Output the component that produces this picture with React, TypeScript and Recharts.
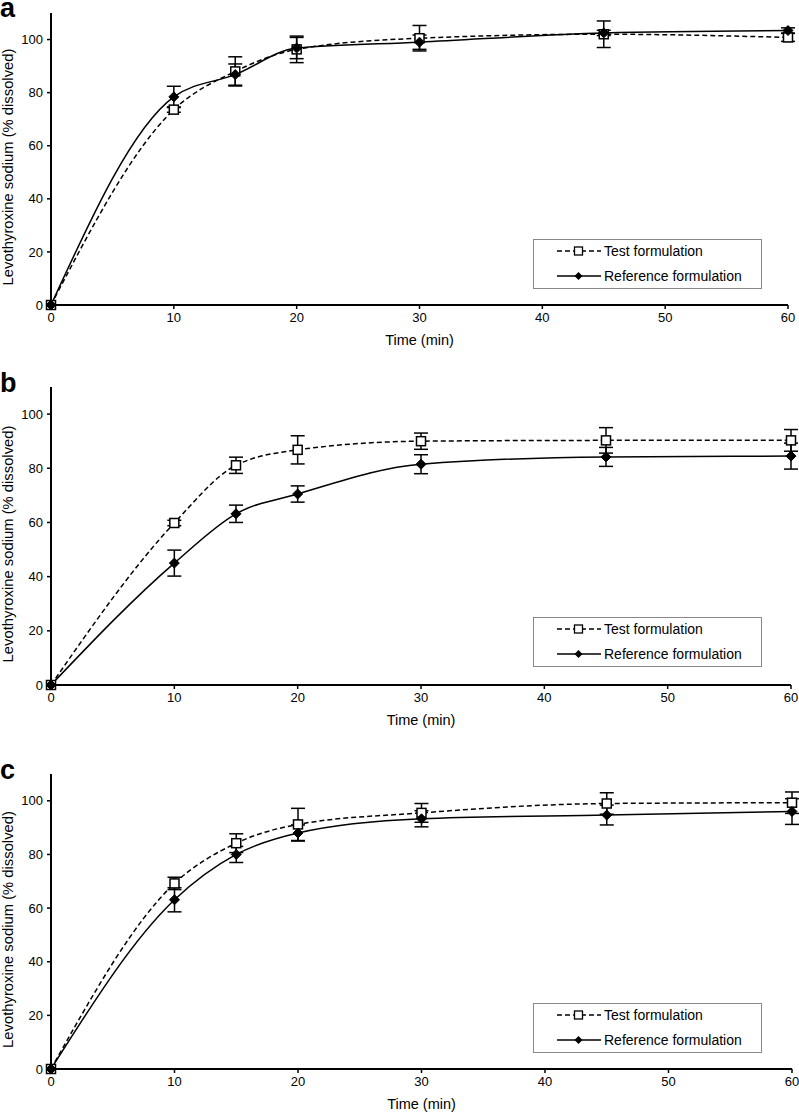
import React from 'react';
import { ComposedChart, Line, XAxis, YAxis, ErrorBar, Label } from 'recharts';

const times = [0, 10, 15, 20, 30, 45, 60];
const xTicks = [0, 10, 20, 30, 40, 50, 60];
const yTicks = [0, 20, 40, 60, 80, 100];

// Panel a
const aTest = [0, 73.6, 88, 96.3, 100.5, 102, 100.8];
const aTestErr = [0, 1, 5.5, 5, 4.8, 5, 1.5];
const aRef = [0, 78.4, 86.8, 96.8, 99, 102.5, 103.4];
const aRefErr = [0, 4, 4, 4, 2.7, 1, 1];

// Panel b
const bTest = [0, 59.8, 81.1, 86.8, 90, 90.3, 90.3];
const bTestErr = [0, 1, 3, 5.2, 3, 4.7, 4];
const bRef = [0, 45, 63.2, 70.5, 81.5, 84.2, 84.5];
const bRefErr = [0, 4.8, 3.2, 3, 3.5, 3.5, 4.8];

// Panel c
const cTest = [0, 69.2, 84.2, 91.2, 95.5, 99, 99.3];
const cTestErr = [0, 2.3, 3.5, 6, 3.5, 4, 4];
const cRef = [0, 63.1, 80, 88, 93.3, 94.7, 96];
const cRefErr = [0, 4.5, 3, 3, 3, 3.7, 4.8];

const seriesNames = ['Test formulation', 'Reference formulation'];
const xLabel = 'Time (min)';
const yLabel = 'Levothyroxine sodium (% dissolved)';

const FONT = '"Liberation Sans", Arial, sans-serif';

function build(test: number[], testErr: number[], ref: number[], refErr: number[]) {
  return times.map((t, i) => ({
    t,
    test: test[i],
    testErr: testErr[i],
    ref: ref[i],
    refErr: refErr[i],
  }));
}

const SquareDot = (props: any) => {
  const { cx, cy, index } = props;
  if (cx == null || cy == null) return null;
  return <rect key={'s' + index} x={cx - 4.5} y={cy - 4.5} width={9} height={9} fill="#fff" stroke="#000" strokeWidth={1.5} />;
};

const DiamondDot = (props: any) => {
  const { cx, cy, index } = props;
  if (cx == null || cy == null) return null;
  const r = 5;
  return (
    <polygon
      key={'d' + index}
      points={`${cx},${cy - r} ${cx + r},${cy} ${cx},${cy + r} ${cx - r},${cy}`}
      fill="#000"
      stroke="#000"
      strokeWidth={1}
    />
  );
};

const LegendBox = ({ left, top }: { left: number; top: number }) => (
  <div
    style={{
      position: 'absolute',
      left,
      top,
      width: 229,
      height: 50,
      border: '1px solid #888',
      boxSizing: 'border-box',
      background: '#fff',
      zIndex: 3,
    }}
  >
    <svg width={229} height={50} style={{ position: 'absolute', left: -1, top: -1 }}>
      <line x1={24} y1={12} x2={68} y2={12} stroke="#000" strokeWidth={1.5} strokeDasharray="5 3" />
      <rect x={41.5} y={8} width={8} height={8} fill="#fff" stroke="#000" strokeWidth={1.3} />
      <text x={71} y={12} dominantBaseline="central" fontSize={14} fontFamily={FONT} fill="#000">{seriesNames[0]}</text>
      <line x1={24} y1={37} x2={68} y2={37} stroke="#000" strokeWidth={1.5} />
      <polygon points="45.5,33 49.5,37 45.5,41 41.5,37" fill="#000" />
      <text x={71} y={37} dominantBaseline="central" fontSize={14} fontFamily={FONT} fill="#000">{seriesNames[1]}</text>
    </svg>
  </div>
);

type PanelProps = {
  letter: string;
  top: number;
  data: any[];
  plotTop: number;
  plotBottom: number;
  plotRight: number;
  legendTop: number;
  letterTop: number;
};

const Panel = ({ letter, top, data, plotTop, plotBottom, plotRight, legendTop, letterTop }: PanelProps) => {
  const height = plotBottom + 52;
  return (
    <div style={{ position: 'absolute', left: 0, top, width: 799, height }}>
      <div
        style={{
          position: 'absolute',
          left: 0,
          top: letterTop,
          fontFamily: FONT,
          fontWeight: 'bold',
          fontSize: 27,
          lineHeight: '27px',
          zIndex: 2,
        }}
      >
        {letter}
      </div>
      <ComposedChart
        width={799}
        height={height}
        data={data}
        margin={{ top: plotTop, right: 799 - plotRight, left: 0, bottom: 12 }}
        style={{ fontFamily: FONT }}
      >
        <XAxis
          dataKey="t"
          type="number"
          domain={[0, 60]}
          ticks={xTicks}
          height={40}
          tickSize={4}
          tickMargin={4}
          axisLine={{ stroke: '#000', strokeWidth: 2 }}
          tickLine={{ stroke: '#000', strokeWidth: 1.5 }}
          tick={{ fill: '#000', fontSize: 13, fontFamily: FONT }}
        >
          <Label value={xLabel} position="insideBottom" offset={0} fill="#000" fontSize={14.5} fontFamily={FONT} />
        </XAxis>
        <XAxis
          xAxisId="top"
          dataKey="t"
          type="number"
          domain={[0, 60]}
          orientation="top"
          height={0}
          tick={false}
          tickLine={false}
          axisLine={{ stroke: '#000', strokeWidth: 1.5 }}
        />
        <YAxis
          type="number"
          domain={[0, 110]}
          ticks={yTicks}
          width={51}
          tickSize={4}
          tickMargin={4}
          axisLine={{ stroke: '#000', strokeWidth: 2 }}
          tickLine={{ stroke: '#000', strokeWidth: 1.5 }}
          tick={{ fill: '#000', fontSize: 13, fontFamily: FONT }}
        >
          <Label
            content={(p: any) => {
              const vb = p.viewBox || {};
              const cy = (vb.y || 0) + (vb.height || 0) / 2 + 8;
              return (
                <text
                  x={8}
                  y={cy}
                  transform={`rotate(-90, 8, ${cy})`}
                  textAnchor="middle"
                  dominantBaseline="central"
                  fontSize={14.8}
                  fontFamily={FONT}
                  fill="#000"
                >
                  {yLabel}
                </text>
              );
            }}
          />
        </YAxis>
        <YAxis
          yAxisId="right"
          orientation="right"
          type="number"
          domain={[0, 110]}
          width={0}
          tick={false}
          tickLine={false}
          axisLine={{ stroke: '#000', strokeWidth: 1.5 }}
        />
        <Line
          type="monotone"
          dataKey="test"
          stroke="#000"
          strokeWidth={1.5}
          strokeDasharray="5 3"
          dot={SquareDot}
          activeDot={false}
          isAnimationActive={false}
        >
          <ErrorBar dataKey="testErr" width={7} stroke="#000" strokeWidth={1.5} direction="y" />
        </Line>
        <Line
          type="monotone"
          dataKey="ref"
          stroke="#000"
          strokeWidth={1.5}
          dot={DiamondDot}
          activeDot={false}
          isAnimationActive={false}
        >
          <ErrorBar dataKey="refErr" width={7} stroke="#000" strokeWidth={1.5} direction="y" />
        </Line>
      </ComposedChart>
      <LegendBox left={533} top={legendTop} />
    </div>
  );
};

export default function App() {
  return (
    <div style={{ position: 'absolute', left: 0, top: 0, width: 799, height: 1112, background: '#fff', overflow: 'hidden' }}>
      <Panel letter="a" top={-3} letterTop={-2} data={build(aTest, aTestErr, aRef, aRefErr)} plotTop={16} plotBottom={308} plotRight={788} legendTop={242} />
      <Panel letter="b" top={373} letterTop={-3} data={build(bTest, bTestErr, bRef, bRefErr)} plotTop={14} plotBottom={312} plotRight={791} legendTop={244} />
      <Panel letter="c" top={760} letterTop={-3} data={build(cTest, cTestErr, cRef, cRefErr)} plotTop={14} plotBottom={309} plotRight={792} legendTop={243} />
    </div>
  );
}
